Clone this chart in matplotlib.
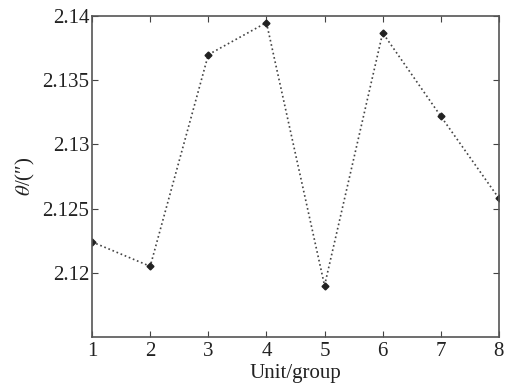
import matplotlib
matplotlib.use("Agg")
import matplotlib.pyplot as plt

# Data
units = [1, 2, 3, 4, 5, 6, 7, 8]
theta = [2.1224, 2.1205, 2.1370, 2.1395, 2.1190, 2.1387, 2.1322, 2.1258]
yticks = [2.12, 2.125, 2.13, 2.135, 2.14]
ytick_labels = ["2.12", "2.125", "2.13", "2.135", "2.14"]

plt.rcParams["font.family"] = ["Liberation Serif", "DejaVu Serif"]
plt.rcParams["mathtext.fontset"] = "stix"

fig = plt.figure(figsize=(5.06, 3.85), dpi=100)
ax = fig.add_axes([0.182, 0.125, 0.804, 0.833])

ax.plot(units, theta, linestyle=":", color="#444444", linewidth=1.2,
        marker="D", markersize=3.5, markerfacecolor="#222222",
        markeredgecolor="#222222")

ax.set_xlim(1, 8)
ax.set_ylim(2.115, 2.14)
ax.set_xticks(units)
ax.set_yticks(yticks)
ax.set_yticklabels(ytick_labels)
ax.tick_params(direction="in", top=True, right=True, labelsize=15,
               length=4, width=0.8, color="#444444", labelcolor="#222222",
               pad=2)
ax.tick_params(axis="x", pad=4)
for s in ax.spines.values():
    s.set_color("#555555")
    s.set_linewidth(1.2)

ax.set_xlabel("Unit/group", fontsize=15, labelpad=2, color="#222222")
ax.set_ylabel(r"$\theta$/(″)", fontsize=15, labelpad=4, color="#222222")

fig.savefig("out.png", dpi=100)
